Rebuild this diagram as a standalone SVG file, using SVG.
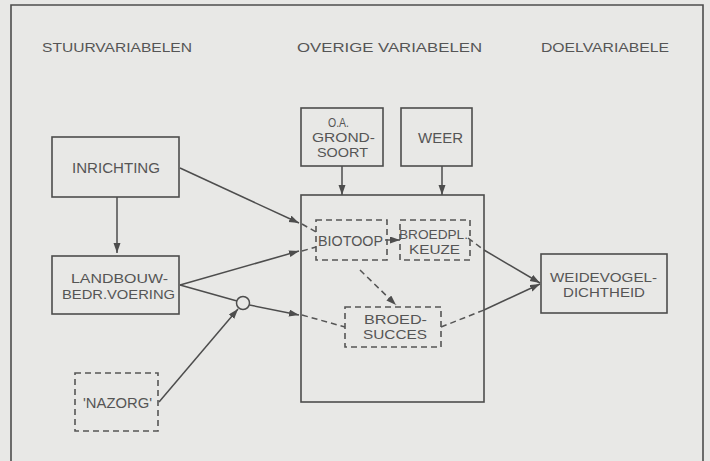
<svg xmlns="http://www.w3.org/2000/svg" width="710" height="461" viewBox="0 0 710 461">
<defs>
<style>
.bg{fill:#e8e8e6}
.box{fill:none;stroke:#4d4d4d;stroke-width:1.6}
.dbox{fill:none;stroke:#555;stroke-width:1.6;stroke-dasharray:6 4}
.ln{fill:none;stroke:#4d4d4d;stroke-width:1.5}
.dl{fill:none;stroke:#555;stroke-width:1.5;stroke-dasharray:6 4}
text{font-family:"Liberation Sans",Arial,sans-serif;fill:#555;font-size:14px}
.hd{font-size:13.5px}
.sm{font-size:13px}
</style>
<marker id="ah" markerUnits="userSpaceOnUse" markerWidth="11" markerHeight="8" refX="10" refY="3.5" orient="auto">
<path d="M0,0 L10,3.5 L0,7 z" fill="#4d4d4d"/>
</marker>
</defs>
<rect class="bg" x="0" y="0" width="710" height="461"/>
<path class="box" d="M11,470 V5 H703 V470"/>
<g id="headers">
<text class="hd" x="42" y="52" textLength="150" lengthAdjust="spacingAndGlyphs">STUURVARIABELEN</text>
<text class="hd" x="297" y="52" textLength="185" lengthAdjust="spacingAndGlyphs">OVERIGE  VARIABELEN</text>
<text class="hd" x="541" y="52" textLength="128" lengthAdjust="spacingAndGlyphs">DOELVARIABELE</text>
</g>
<g id="inrichting">
<rect class="box" x="52" y="137" width="127" height="60"/>
<text x="72" y="173" textLength="88" lengthAdjust="spacingAndGlyphs">INRICHTING</text>
</g>
<g id="landbouw">
<rect class="box" x="52" y="256" width="127" height="58"/>
<text class="sm" x="71" y="283" textLength="97" lengthAdjust="spacingAndGlyphs">LANDBOUW-</text>
<text class="sm" x="62" y="299" textLength="113" lengthAdjust="spacingAndGlyphs">BEDR.VOERING</text>
</g>
<g id="nazorg">
<rect class="dbox" x="75" y="373" width="83" height="58"/>
<text x="83" y="408" textLength="69" lengthAdjust="spacingAndGlyphs">'NAZORG'</text>
</g>
<g id="grondsoort">
<rect class="box" x="301" y="108" width="82" height="58"/>
<text class="sm" x="328" y="127" textLength="21" lengthAdjust="spacingAndGlyphs">O.A.</text>
<text class="sm" x="312" y="142" textLength="63" lengthAdjust="spacingAndGlyphs">GROND-</text>
<text class="sm" x="317" y="157" textLength="51" lengthAdjust="spacingAndGlyphs">SOORT</text>
</g>
<g id="weer">
<rect class="box" x="401" y="108" width="71" height="58"/>
<text x="418" y="143" textLength="45" lengthAdjust="spacingAndGlyphs">WEER</text>
</g>
<g id="overige">
<rect class="box" x="301" y="195" width="183" height="207"/>
</g>
<g id="biotoop">
<rect class="dbox" x="316" y="220" width="71" height="40"/>
<text x="318" y="246" textLength="65" lengthAdjust="spacingAndGlyphs">BIOTOOP</text>
</g>
<g id="broedplkeuze">
<rect class="dbox" x="400" y="220" width="70" height="40"/>
<text class="sm" x="399" y="238.5" textLength="69" lengthAdjust="spacingAndGlyphs">BROEDPL.</text>
<text class="sm" x="409" y="253.5" textLength="51" lengthAdjust="spacingAndGlyphs">KEUZE</text>
</g>
<g id="broedsucces">
<rect class="dbox" x="345" y="307" width="96" height="40"/>
<text class="sm" x="364" y="324" textLength="63" lengthAdjust="spacingAndGlyphs">BROED-</text>
<text class="sm" x="363" y="339" textLength="64" lengthAdjust="spacingAndGlyphs">SUCCES</text>
</g>
<g id="weidevogel">
<rect class="box" x="541" y="254" width="126" height="59"/>
<text class="sm" x="550" y="282" textLength="107" lengthAdjust="spacingAndGlyphs">WEIDEVOGEL-</text>
<text class="sm" x="563" y="297" textLength="82" lengthAdjust="spacingAndGlyphs">DICHTHEID</text>
</g>
<g id="connectors">
<line class="ln" x1="117" y1="197" x2="117" y2="253" marker-end="url(#ah)"/>
<line class="ln" x1="180" y1="168" x2="299" y2="223" marker-end="url(#ah)"/>
<line class="dl" x1="302" y1="224" x2="316" y2="232"/>
<line class="ln" x1="180" y1="285" x2="299" y2="251" marker-end="url(#ah)"/>
<line class="dl" x1="302" y1="251" x2="316" y2="247"/>
<line class="ln" x1="180" y1="285" x2="237" y2="301"/>
<circle class="ln" cx="243" cy="303" r="6.5" fill="#e8e8e6"/>
<line class="ln" x1="249.5" y1="305" x2="299" y2="315" marker-end="url(#ah)"/>
<line class="dl" x1="302" y1="315" x2="345" y2="327"/>
<line class="ln" x1="159" y1="402" x2="238" y2="309" marker-end="url(#ah)"/>
<line class="ln" x1="342" y1="166" x2="342" y2="195" marker-end="url(#ah)"/>
<line class="ln" x1="442" y1="166" x2="442" y2="195" marker-end="url(#ah)"/>
<line class="dl" x1="385" y1="240" x2="400" y2="240" marker-end="url(#ah)"/>
<line class="dl" x1="360" y1="270" x2="396" y2="305" marker-end="url(#ah)"/>
<line class="dl" x1="468" y1="238" x2="484" y2="250"/>
<line class="ln" x1="484" y1="250" x2="540" y2="283" marker-end="url(#ah)"/>
<line class="dl" x1="441" y1="327" x2="484" y2="310"/>
<line class="ln" x1="484" y1="310" x2="540" y2="284" marker-end="url(#ah)"/>
</g>
</svg>
